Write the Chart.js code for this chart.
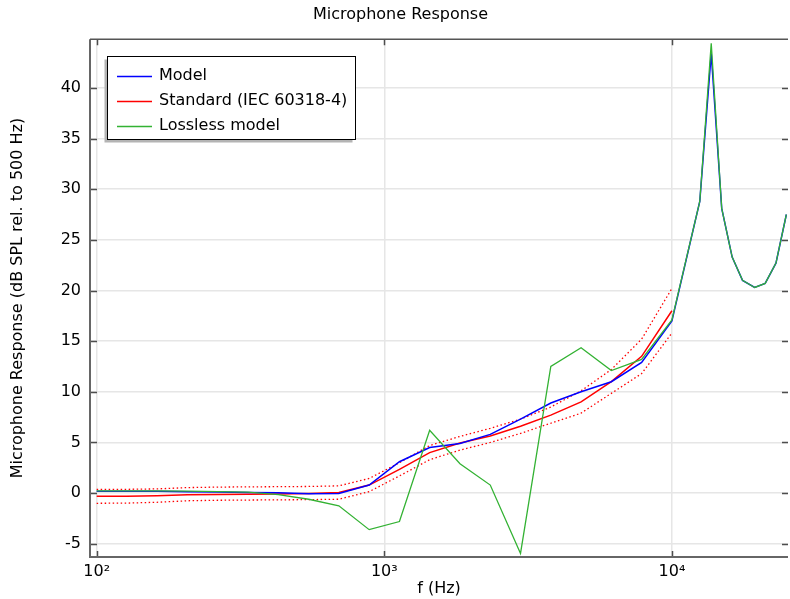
<!DOCTYPE html>
<html>
<head>
<meta charset="utf-8">
<title>Microphone Response</title>
<script src="https://cdn.jsdelivr.net/npm/chart.js@4.4.0/dist/chart.umd.min.js"></script>
<style>
  html, body { margin: 0; padding: 0; background: #fff; }
  #wrap { width: 790px; height: 599px; }
</style>
</head>
<body>
<div id="wrap"><canvas id="micChart" width="790" height="599"></canvas></div>
<script>
// frequencies (Hz)
const freqStd = [100, 127, 162, 207, 264, 336, 428, 546, 695, 886, 1129, 1438, 1833, 2336, 2976, 3793, 4833, 6158, 7848, 10000];
const freqSim = freqStd.concat([12500, 13700, 14900, 16200, 17600, 19400, 21100, 23000, 25000]);

// response in dB SPL rel. to 500 Hz
const modelDb = [0.2, 0.2, 0.2, 0.15, 0.12, 0.07, 0.03, -0.05, -0.03, 0.8, 3.1, 4.5, 4.9, 5.8, 7.3, 8.9, 10.0, 11.0, 12.9, 17.0,
  28.8, 43.4, 28.1, 23.3, 21.0, 20.3, 20.7, 22.7, 27.5];
const losslessDb = [0.22, 0.22, 0.22, 0.2, 0.15, 0.1, -0.15, -0.6, -1.25, -3.6, -2.8, 6.2, 2.9, 0.8, -5.95, 12.5, 14.35, 12.1, 13.2, 17.1,
  28.8, 44.4, 28.1, 23.3, 21.0, 20.3, 20.7, 22.7, 27.5];
const standardDb = [-0.3, -0.3, -0.25, -0.15, -0.12, -0.1, -0.08, -0.03, 0.07, 0.8, 2.35, 4.0, 4.95, 5.65, 6.6, 7.7, 9.0, 11.0, 13.5, 18.0];
const standardUpper = [0.38, 0.38, 0.42, 0.55, 0.6, 0.62, 0.64, 0.66, 0.72, 1.45, 3.0, 4.7, 5.6, 6.4, 7.3, 8.5, 10.1, 12.2, 15.2, 20.2];
const standardLower = [-1.0, -0.98, -0.9, -0.75, -0.7, -0.68, -0.66, -0.64, -0.6, 0.15, 1.7, 3.3, 4.25, 5.0, 5.9, 6.9, 7.9, 9.85, 11.8, 15.8];

const xTickValues = [100, 1000, 10000];
const xTickLabels = ['10\u00b2', '10\u00b3', '10\u2074'];
const yTickValues = [-5, 0, 5, 10, 15, 20, 25, 30, 35, 40];
const legendOrder = ['Model', 'Standard (IEC 60318-4)', 'Lossless model'];

const BLUE = '#0000ff';
const RED = '#ff0000';
const GREEN = '#33b233';

function pts(xs, ys) {
  return ys.map((v, i) => ({ x: xs[i], y: v }));
}

function lineSet(label, xs, ys, color, width, extra) {
  return Object.assign({
    label: label,
    data: pts(xs, ys),
    borderColor: color,
    backgroundColor: color,
    borderWidth: width,
    pointRadius: 0,
    tension: 0,
    fill: false
  }, extra || {});
}

Chart.defaults.font.family = '"DejaVu Sans", sans-serif';
Chart.defaults.font.size = 16;
Chart.defaults.color = '#000';

// frame, inward tick marks and the boxed legend
const framePlugin = {
  id: 'framePlugin',
  afterDatasetsDraw(chart) {
    const { ctx, chartArea: a, scales } = chart;
    const x = scales.x, y = scales.y;
    ctx.save();
    ctx.strokeStyle = '#4d4d4d';
    ctx.lineWidth = 1.5;
    ctx.beginPath();
    xTickValues.forEach(v => {
      const px = Math.round(x.getPixelForValue(v)) + 0.5;
      ctx.moveTo(px, a.bottom); ctx.lineTo(px, a.bottom - 6);
      ctx.moveTo(px, a.top); ctx.lineTo(px, a.top + 6);
    });
    yTickValues.forEach(v => {
      const py = Math.round(y.getPixelForValue(v)) + 0.5;
      ctx.moveTo(a.left, py); ctx.lineTo(a.left + 7, py);
      ctx.moveTo(a.right, py); ctx.lineTo(a.right - 6, py);
    });
    ctx.stroke();

    ctx.strokeStyle = '#666';
    ctx.lineWidth = 2;
    ctx.beginPath();
    ctx.moveTo(a.left, a.top); ctx.lineTo(a.left, a.bottom); ctx.lineTo(a.right, a.bottom);
    ctx.stroke();
    ctx.strokeStyle = '#555';
    ctx.lineWidth = 1.5;
    ctx.beginPath();
    ctx.moveTo(a.left, a.top); ctx.lineTo(a.right, a.top);
    ctx.stroke();
    ctx.restore();
  },
  afterDraw(chart) {
    const ctx = chart.ctx;
    const items = legendOrder.map(name => chart.data.datasets.find(d => d.label === name));
    const bx = 107.5, by = 56.5, bw = 248, bh = 83;
    ctx.save();
    ctx.fillStyle = '#b4b4b4';
    ctx.fillRect(bx - 3, by + 3, bw, bh);
    ctx.fillStyle = '#fff';
    ctx.fillRect(bx, by, bw, bh);
    ctx.strokeStyle = '#000';
    ctx.lineWidth = 1;
    ctx.strokeRect(bx, by, bw, bh);
    ctx.font = '16px "DejaVu Sans", sans-serif';
    ctx.textBaseline = 'middle';
    ctx.textAlign = 'left';
    items.forEach((d, i) => {
      const ry = 76 + i * 25;
      ctx.strokeStyle = d.borderColor;
      ctx.lineWidth = 1.5;
      ctx.beginPath();
      ctx.moveTo(117, ry + 0.5);
      ctx.lineTo(152, ry + 0.5);
      ctx.stroke();
      ctx.fillStyle = '#000';
      ctx.fillText(d.label, 159, ry);
    });
    ctx.restore();
  }
};

new Chart(document.getElementById('micChart'), {
  type: 'line',
  data: {
    datasets: [
      lineSet('Lossless model', freqSim, losslessDb, GREEN, 1.3, { order: 0 }),
      lineSet('Model', freqSim, modelDb, BLUE, 1.5, { order: 1 }),
      lineSet('Standard (IEC 60318-4)', freqStd, standardDb, RED, 1.5, { order: 2 }),
      lineSet('Upper limit', freqStd, standardUpper, RED, 1.3, { borderDash: [1.5, 2.5], order: 3 }),
      lineSet('Lower limit', freqStd, standardLower, RED, 1.3, { borderDash: [1.5, 2.5], order: 3 })
    ]
  },
  options: {
    responsive: false,
    animation: false,
    devicePixelRatio: 1,
    // extra left padding keeps the title centred a bit right of the canvas middle
    layout: { padding: { left: 13, right: 2, top: 0, bottom: 0 } },
    plugins: {
      legend: { display: false },
      tooltip: { enabled: false },
      title: {
        display: true,
        text: 'Microphone Response',
        font: { size: 16, weight: 'normal' },
        color: '#000',
        padding: { top: 5, bottom: 15 }
      }
    },
    scales: {
      x: {
        type: 'logarithmic',
        min: 94.8,
        max: 25330,
        afterBuildTicks(scale) {
          scale.ticks = xTickValues.map(v => ({ value: v }));
        },
        afterFit(scale) { scale.height = 42; },
        ticks: {
          padding: 5,
          autoSkip: false,
          maxRotation: 0,
          callback: (v) => xTickLabels[xTickValues.indexOf(v)]
        },
        grid: { color: '#e6e6e6', lineWidth: 1.5, drawTicks: false },
        border: { display: false },
        title: { display: true, text: 'f (Hz)', padding: { top: 0, bottom: 1 } }
      },
      y: {
        type: 'linear',
        min: -6.3,
        max: 44.8,
        afterBuildTicks(scale) {
          scale.ticks = yTickValues.map(v => ({ value: v }));
        },
        afterFit(scale) { scale.width = 77; },
        ticks: { padding: 9 },
        grid: { color: '#e6e6e6', lineWidth: 1.5, drawTicks: false },
        border: { display: false },
        title: {
          display: true,
          text: 'Microphone Response (dB SPL rel. to 500 Hz)',
          padding: { top: -4.6, bottom: 0 }
        }
      }
    }
  },
  plugins: [framePlugin]
});
</script>
</body>
</html>
